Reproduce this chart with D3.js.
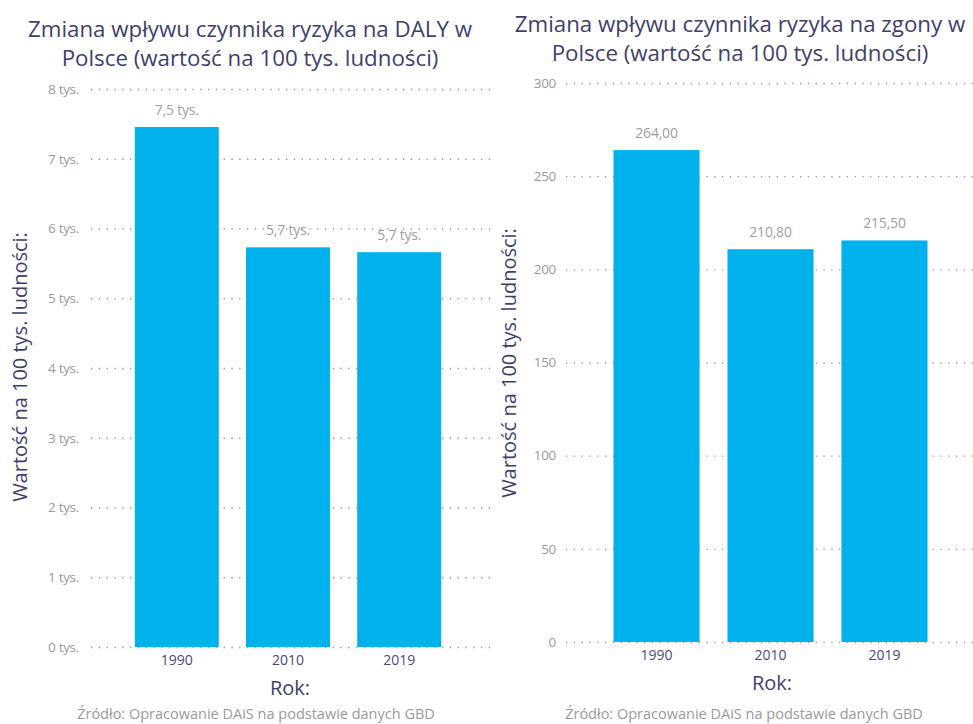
<!DOCTYPE html>
<html>
<head>
<meta charset="utf-8">
<script src="https://cdn.jsdelivr.net/npm/d3@7"></script>
<style>
  body { margin: 0; background: #fff; font-family: "Open Sans", sans-serif; }
  svg text { font-family: "Open Sans", sans-serif; }
</style>
</head>
<body>
<svg id="chart" width="973" height="724"></svg>
<script>
// dane
var years = ["1990", "2010", "2019"];
var dalyValues = [7455, 5730, 5660];
var dalyLabels = ["7,5 tys.", "5,7 tys.", "5,7 tys."];
var dalyTicks = [0, 1000, 2000, 3000, 4000, 5000, 6000, 7000, 8000];
var deathValues = [264.0, 210.8, 215.5];
var deathLabels = ["264,00", "210,80", "215,50"];
var deathTicks = [0, 50, 100, 150, 200, 250, 300];

var svg = d3.select("#chart");

function drawChart(opts) {
    var g = svg.append("g");

    var y = d3.scaleLinear().domain(opts.domain).range([opts.bottom, opts.top]);
    var x = d3.scaleBand().domain(years).range([opts.left, opts.plotRight])
        .paddingInner(opts.padInner).paddingOuter(opts.padOuter);

    // tytul
    g.selectAll(".title").data(opts.title).enter().append("text")
        .attr("x", opts.cx)
        .attr("y", function(d, i) { return opts.titleY + i * 29; })
        .attr("text-anchor", "middle")
        .attr("font-size", 22.3)
        .attr("fill", "#3f3f6e")
        .text(function(d) { return d; });

    // siatka
    var yAxis = d3.axisLeft(y).tickValues(opts.ticks)
        .tickSize(-(opts.gridRight - opts.gridLeft))
        .tickPadding(opts.gridLeft - opts.labelX)
        .tickFormat(opts.tickFormat);
    var ga = g.append("g")
        .attr("transform", "translate(" + opts.gridLeft + ",0)")
        .call(yAxis);
    ga.select(".domain").remove();
    ga.selectAll("line")
        .attr("stroke", "#8f8fc0")
        .attr("stroke-width", 1.3)
        .attr("stroke-dasharray", "1.3,6.5");
    ga.selectAll("text")
        .attr("fill", "#9a9a9a")
        .attr("font-size", 13.5)
        .attr("letter-spacing", -0.3)
        .style("font-family", "Open Sans, sans-serif");

    // slupki
    g.selectAll(".bar").data(opts.values).enter().append("rect")
        .attr("x", function(d, i) { return x(years[i]); })
        .attr("y", function(d) { return y(d); })
        .attr("width", x.bandwidth())
        .attr("height", function(d) { return y(0) - y(d); })
        .attr("fill", "#00b2ec");

    g.selectAll(".val").data(opts.values).enter().append("text")
        .attr("x", function(d, i) { return x(years[i]) + x.bandwidth() / 2; })
        .attr("y", function(d) { return y(d) - 12; })
        .attr("text-anchor", "middle")
        .attr("font-size", 14)
        .attr("letter-spacing", -0.2)
        .attr("fill", "#a0a0a0")
        .text(function(d, i) { return opts.labels[i]; });

    // os x
    var xAxis = d3.axisBottom(x).tickSize(0).tickPadding(8);
    var gx = g.append("g")
        .attr("transform", "translate(0," + opts.bottom + ")")
        .call(xAxis);
    gx.select(".domain").remove();
    gx.selectAll("text")
        .attr("fill", "#4a4a78")
        .attr("font-size", 14)
        .style("font-family", "Open Sans, sans-serif");

    g.append("text")
        .attr("x", opts.xTitleX)
        .attr("y", opts.bottom + 48)
        .attr("text-anchor", "middle")
        .attr("font-size", 20)
        .attr("fill", "#3f3f6e")
        .text("Rok:");

    g.append("text")
        .attr("transform", "translate(" + opts.yTitleX + "," + opts.yTitleY + ") rotate(-90)")
        .attr("text-anchor", "middle")
        .attr("font-size", 20)
        .attr("fill", "#3f3f6e")
        .text("Wartość na 100 tys. ludności:");

    g.append("text")
        .attr("x", opts.srcX)
        .attr("y", 719)
        .attr("text-anchor", "middle")
        .attr("font-size", 14.5)
        .attr("fill", "#9a9a9a")
        .text("Źródło: Opracowanie DAiS na podstawie danych GBD");
}

drawChart({
    title: ["Zmiana wpływu czynnika ryzyka na DALY w", "Polsce (wartość na 100 tys. ludności)"],
    cx: 250, titleY: 37,
    domain: [0, 8000],
    ticks: dalyTicks,
    tickFormat: function(d) { return (d / 1000) + " tys."; },
    values: dalyValues,
    labels: dalyLabels,
    top: 89, bottom: 647,
    left: 107, plotRight: 469,
    padInner: 0.245, padOuter: 0.25,
    gridLeft: 91, gridRight: 490, labelX: 79,
    xTitleX: 290,
    yTitleX: 27, yTitleY: 367,
    srcX: 256
});

drawChart({
    title: ["Zmiana wpływu czynnika ryzyka na zgony w", "Polsce (wartość na 100 tys. ludności)"],
    cx: 740, titleY: 32,
    domain: [0, 300],
    ticks: deathTicks,
    tickFormat: function(d) { return d; },
    values: deathValues,
    labels: deathLabels,
    top: 83, bottom: 642,
    left: 585, plotRight: 956,
    padInner: 0.245, padOuter: 0.25,
    gridLeft: 566, gridRight: 973, labelX: 556,
    xTitleX: 772,
    yTitleX: 516, yTitleY: 363,
    srcX: 744
});
</script>
</body>
</html>
